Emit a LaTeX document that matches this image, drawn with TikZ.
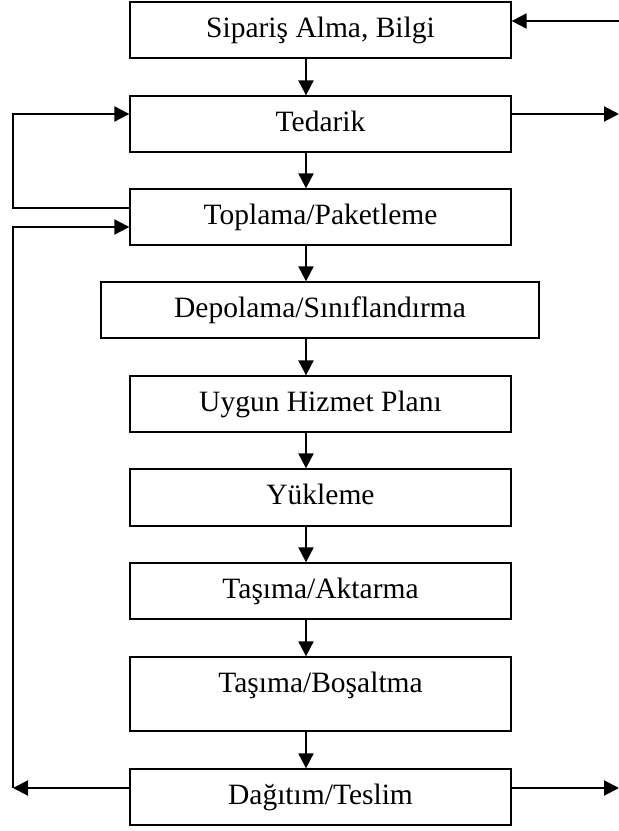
\documentclass[tikz,border=0pt]{standalone}
\usepackage{fontspec}
\setmainfont{Liberation Serif}
\usetikzlibrary{arrows.meta}
\begin{document}
\begin{tikzpicture}[x=1pt,y=-1pt,
  box/.style={draw, line width=1.3pt, rectangle, inner sep=0pt,
    minimum width=381pt, minimum height=56pt, text height=20pt, text depth=6pt,
    font=\fontsize{29.5}{34}\selectfont},
  arr/.style={line width=2pt, -{Triangle[length=15pt,width=15pt]}},
  ln/.style={line width=2pt}]
\useasboundingbox (0,0) rectangle (619,831);
\node[box] (sip) at (320.5,30) {Sipariş Alma, Bilgi};
\node[box] (ted) at (320.5,124) {Tedarik};
\node[box] (top) at (320.5,217) {Toplama/Paketleme};
\node[box, minimum width=438pt] (dep) at (320,310) {Depolama/Sınıflandırma};
\node[box] (uyg) at (320.5,404) {Uygun Hizmet Planı};
\node[box, minimum height=57pt] (yuk) at (320.5,497.5) {Yükleme};
\node[box] (akt) at (320.5,591) {Taşıma/Aktarma};
\node[box, minimum height=74pt, text depth=24pt] (bos) at (320.5,694) {Taşıma/Boşaltma};
\node[box] (dag) at (320.5,797) {Dağıtım/Teslim};
% column of vertical arrows
\coordinate (ax) at (306,0);
\draw[arr] (sip.south -| ax) -- (ted.north -| ax);
\draw[arr] (ted.south -| ax) -- (top.north -| ax);
\draw[arr] (top.south -| ax) -- (dep.north -| ax);
\draw[arr] (dep.south -| ax) -- (uyg.north -| ax);
\draw[arr] (uyg.south -| ax) -- (yuk.north -| ax);
\draw[arr] (yuk.south -| ax) -- (akt.north -| ax);
\draw[arr] (akt.south -| ax) -- (bos.north -| ax);
\draw[arr] (bos.south -| ax) -- (dag.north -| ax);
% side connectors
\coordinate (inR) at (619,21);
\coordinate (R1) at (619,114);
\coordinate (L1) at (13,114);
\coordinate (Lt) at (13,208);
\coordinate (Lc) at (13,227);
\coordinate (Lb) at (13,788);
\coordinate (Rb) at (619,788);
\draw[arr] (inR) -- (inR -| sip.east);
\draw[arr] (R1 -| ted.east) -- (R1);
\draw[arr] (Lt -| top.west) -- (Lt) -- (L1) -- (L1 -| ted.west);
\draw[arr] (Lb -| dag.west) -- (Lb);
\draw[arr] (Lb) -- (Lc) -- (Lc -| top.west);
\draw[arr] (Rb -| dag.east) -- (Rb);
\end{tikzpicture}
\end{document}
